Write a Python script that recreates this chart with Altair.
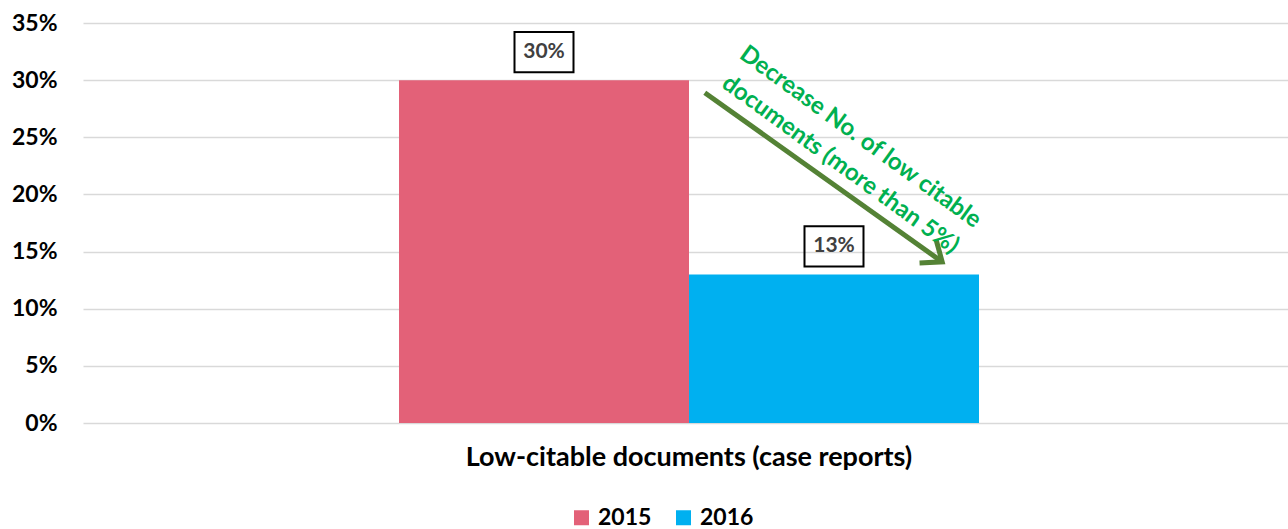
import altair as alt
import pandas as pd

# ---- data ----
categories = ["Low-citable documents (case reports)"]
years = ["2015", "2016"]
values = [0.30, 0.13]
value_labels = ["30%", "13%"]
bar_colors = ["#E36178", "#00B0F0"]

# annotation (x as fraction of plot width, y in data units)
arrow_x = [0.516, 0.713]
arrow_y = [0.289, 0.141]
note_lines = ["Decrease No. of low citable", "documents (more than 5%)"]
note_x = [0.645]
note_y = [0.250]

FONT = "Lato"

bars_df = pd.DataFrame({
    "category": [categories[0]] * len(years),
    "year": years,
    "value": values,
    "label": value_labels,
})
arrow_df = pd.DataFrame({"x": [arrow_x[0]], "x2": [arrow_x[1]], "y": [arrow_y[0]], "y2": [arrow_y[1]]})
head_df = pd.DataFrame({"x": [arrow_x[1]], "y": [arrow_y[1]]})
note_df = pd.DataFrame({"x": note_x, "y": note_y, "text": ["\n".join(note_lines)]})

xscale = alt.Scale(paddingOuter=0.5388, paddingInner=0, align=0.5056)
x_enc = alt.X(
    "category:N", title=None, scale=xscale,
    axis=alt.Axis(labelAngle=0, ticks=False, domain=False, grid=False, labelLimit=0,
                  labelFont=FONT, labelFontSize=27, labelFontWeight="bold",
                  labelColor="#000000", labelPadding=21),
)
x_noaxis = alt.X("category:N", title=None, scale=xscale, axis=None)
xoff = alt.XOffset("year:N", scale=alt.Scale(paddingInner=0, paddingOuter=0))
y_enc = alt.Y(
    "value:Q", title=None,
    scale=alt.Scale(domain=[0, 0.35], nice=False),
    axis=alt.Axis(format=".0%", values=[0, 0.05, 0.10, 0.15, 0.20, 0.25, 0.30, 0.35],
                  ticks=False, tickSize=0, domain=False, labelPadding=26,
                  labelFont=FONT, labelFontSize=23, labelFontWeight="bold",
                  labelColor="#000000", gridColor="#D9D9D9", gridWidth=1.5),
)
color_enc = alt.Color(
    "year:N", scale=alt.Scale(domain=years, range=bar_colors),
    legend=alt.Legend(title=None, orient="none", direction="horizontal",
                      legendX=487, legendY=483, symbolType="square", symbolSize=225,
                      symbolStrokeWidth=0, labelFont=FONT, labelFontSize=23,
                      labelFontWeight="bold", labelColor="#000000",
                      labelOffset=5, columnPadding=20),
)

bars = alt.Chart(bars_df).mark_bar().encode(
    x=x_enc, xOffset=xoff, y=y_enc, color=color_enc
)
boxes = alt.Chart(bars_df).mark_point(
    shape="M-1,-0.68L1,-0.68L1,0.68L-1,0.68Z", size=3481, filled=False,
    stroke="#000000", strokeWidth=2, opacity=1
).encode(x=x_noaxis, xOffset=xoff, y=alt.Y("value:Q"), yOffset=alt.value(-28))
texts = alt.Chart(bars_df).mark_text(
    dy=-28, baseline="middle", align="center", font=FONT, fontSize=21,
    fontWeight="bold", color="#404040"
).encode(x=x_noaxis, xOffset=xoff, y=alt.Y("value:Q"), text="label:N")

xa = alt.Scale(domain=[0, 1], nice=False, zero=False)
arrow = alt.Chart(arrow_df).mark_rule(color="#548235", strokeWidth=5).encode(
    x=alt.X("x:Q", scale=xa, axis=None), x2="x2:Q",
    y=alt.Y("y:Q"), y2="y2:Q",
)
head = alt.Chart(head_df).mark_point(
    shape="M-1,-0.8L0,0L-1,0.8", size=1250, filled=False, angle=36,
    stroke="#548235", strokeWidth=5, opacity=1, strokeJoin="miter"
).encode(x=alt.X("x:Q", scale=xa, axis=None), y=alt.Y("y:Q"))
note = alt.Chart(note_df).mark_text(
    angle=36, align="center", baseline="middle", lineBreak="\n", lineHeight=34,
    font=FONT, fontSize=24, fontWeight="bold", color="#00B050"
).encode(x=alt.X("x:Q", scale=xa, axis=None), y=alt.Y("y:Q"), text="text:N")

chart = alt.layer(bars, boxes, texts, arrow, head, note).resolve_scale(
    x="independent"
).properties(
    width=1205, height=400,
    autosize=alt.AutoSizeParams(type="none"),
    padding={"left": 83, "top": 23, "right": 0, "bottom": 106},
).configure_view(stroke=None)

chart.save("out.html", embed_options={"renderer": "svg", "actions": False})
